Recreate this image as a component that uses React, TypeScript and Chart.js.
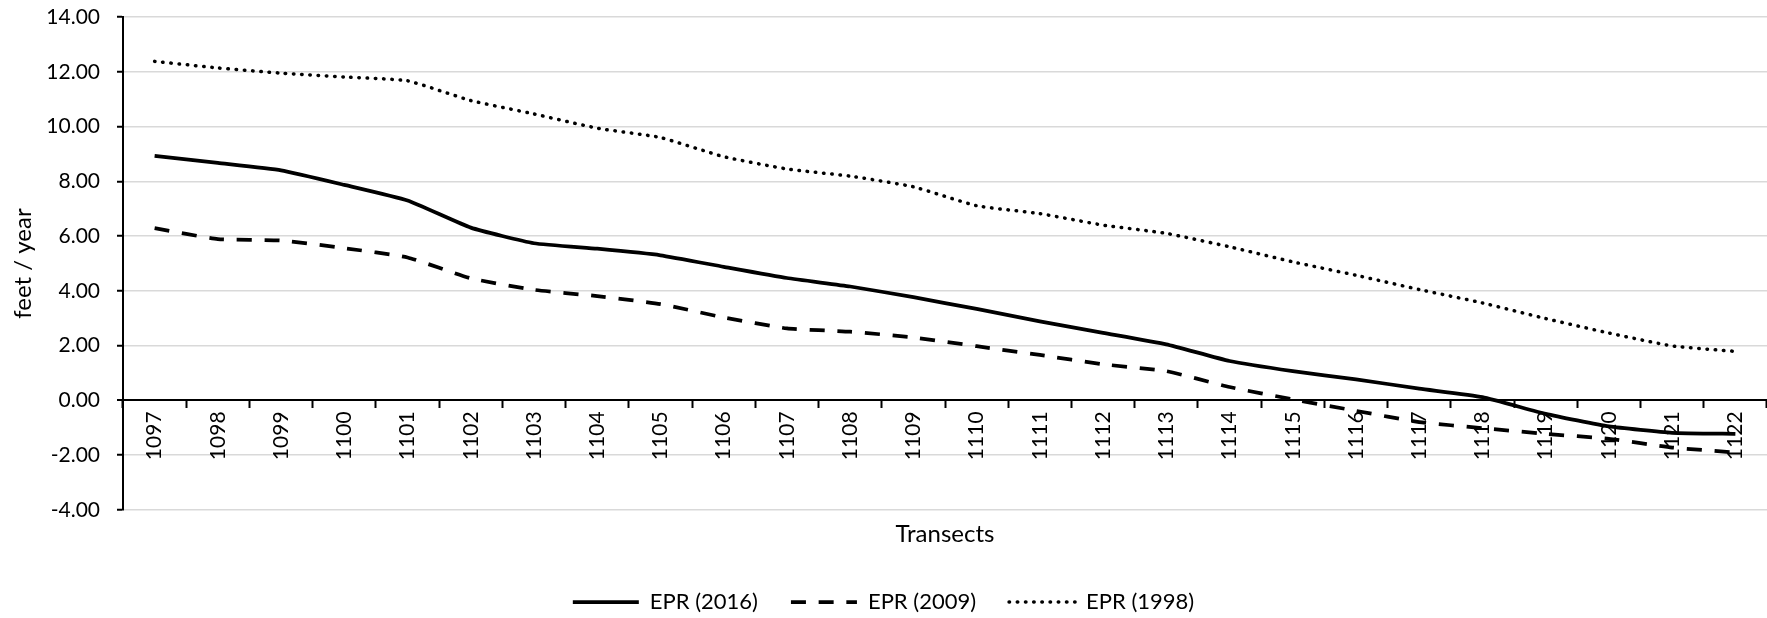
import React, { useEffect, useRef } from 'react';
import { Chart, registerables } from 'chart.js';

Chart.register(...registerables);

const categories = [
  '1097', '1098', '1099', '1100', '1101', '1102', '1103', '1104', '1105', '1106',
  '1107', '1108', '1109', '1110', '1111', '1112', '1113', '1114', '1115', '1116',
  '1117', '1118', '1119', '1120', '1121', '1122',
];

const epr2016 = [
  8.93, 8.67, 8.40, 7.87, 7.30, 6.31, 5.74, 5.54, 5.30, 4.88,
  4.47, 4.16, 3.77, 3.34, 2.89, 2.47, 2.05, 1.44, 1.07, 0.77,
  0.43, 0.12, -0.49, -0.95, -1.18, -1.22,
];

const epr2009 = [
  6.29, 5.89, 5.84, 5.56, 5.22, 4.46, 4.04, 3.81, 3.52, 3.03,
  2.63, 2.51, 2.30, 1.98, 1.66, 1.32, 1.07, 0.49, 0.04, -0.38,
  -0.79, -1.01, -1.22, -1.40, -1.72, -1.90,
];

const epr1998 = [
  12.38, 12.14, 11.95, 11.81, 11.67, 10.95, 10.46, 9.94, 9.60, 8.90,
  8.45, 8.19, 7.80, 7.11, 6.82, 6.40, 6.10, 5.61, 5.06, 4.57,
  4.05, 3.56, 2.99, 2.46, 1.99, 1.79,
];

const seriesNames = ['EPR (2016)', 'EPR (2009)', 'EPR (1998)'];
const yMin = -4;
const yMax = 14;
const yStep = 2;
const xTitle = 'Transects';
const yTitle = 'feet / year';

const FAMILY = 'Lato, "Open Sans", "Noto Sans", sans-serif';
const titleFont = { family: FAMILY, size: 24, weight: 'normal' as const };
const legendFont = { family: FAMILY, size: 22, weight: 'normal' as const };
const tickFont = { family: FAMILY, size: 21, weight: 'normal' as const };

export default function App() {
  const ref = useRef<HTMLCanvasElement>(null);

  useEffect(() => {
    document.body.style.margin = '0';
    const canvas = ref.current;
    if (!canvas) return;
    const chart = new Chart(canvas, {
      type: 'line',
      data: {
        labels: categories,
        datasets: [
          {
            label: seriesNames[0],
            data: epr2016,
            borderColor: '#000',
            backgroundColor: '#000',
            borderWidth: 3.75,
            pointRadius: 0,
            tension: 0.15,
            borderJoinStyle: 'round',
          },
          {
            label: seriesNames[1],
            data: epr2009,
            borderColor: '#000',
            backgroundColor: '#000',
            borderWidth: 3.75,
            borderDash: [15, 12.7],
            pointRadius: 0,
            tension: 0.15,
          },
          {
            label: seriesNames[2],
            data: epr1998,
            borderColor: '#000',
            backgroundColor: '#000',
            borderWidth: 3.5,
            borderDash: [0.5, 7.7],
            borderCapStyle: 'round',
            pointRadius: 0,
            tension: 0.15,
          },
        ],
      },
      options: {
        animation: false,
        responsive: false,
        devicePixelRatio: 1,
        layout: { padding: { top: 17, left: 0, right: 0, bottom: -5 } },
        plugins: {
          tooltip: { enabled: false },
          title: {
            display: true,
            text: xTitle,
            position: 'bottom',
            fullSize: false,
            weight: 500,
            color: '#000',
            font: titleFont,
            padding: { top: 9.6, bottom: 9.6 },
          },
          legend: {
            display: true,
            position: 'bottom',
            labels: {
              usePointStyle: true,
              pointStyle: 'line',
              pointStyleWidth: 66,
              boxWidth: 66,
              padding: 33,
              color: '#000',
              font: legendFont,
              generateLabels: (ch: any) => {
                const items = Chart.defaults.plugins.legend.labels.generateLabels(ch);
                return items.map((it: any) => {
                  const ds: any = ch.data.datasets[it.datasetIndex];
                  return {
                    ...it,
                    lineDash: ds.borderDash || [],
                    lineCap: ds.borderCapStyle || 'butt',
                    lineWidth: ds.borderWidth,
                    strokeStyle: '#000',
                    fillStyle: '#000',
                  };
                });
              },
            },
          },
        },
        scales: {
          x: {
            type: 'category',
            position: { y: 0 },
            offset: true,
            grid: {
              display: true,
              drawOnChartArea: false,
              drawTicks: true,
              tickLength: 7,
              tickColor: '#000',
              tickWidth: 2,
              offset: true,
            },
            border: { display: true, color: '#000', width: 2 },
            ticks: {
              autoSkip: false,
              minRotation: 90,
              maxRotation: 90,
              padding: 4,
              color: '#000',
              font: tickFont,
            },
          },
          y: {
            min: yMin,
            max: yMax,
            ticks: {
              stepSize: yStep,
              padding: 17,
              color: '#000',
              font: tickFont,
              callback: (v: any) => Number(v).toFixed(2),
            },
            grid: {
              color: (c: any) => (c.tick && c.tick.value === 0 ? '#000' : '#d9d9d9'),
              lineWidth: (c: any) => (c.tick && c.tick.value === 0 ? 2 : 1.5),
              tickColor: '#000',
              tickLength: 6,
              tickWidth: 2,
            },
            border: { display: true, color: '#000', width: 2 },
            title: {
              display: true,
              text: yTitle,
              color: '#000',
              font: titleFont,
              padding: { top: 8.6, bottom: 0 },
            },
            afterFit: (s: any) => {
              s.width = 123;
              s.paddingTop = 0;
              s.paddingBottom = 0;
            },
          },
        },
      },
    } as any);
    return () => chart.destroy();
  }, []);

  return (
    <div style={{ width: 1767, height: 618 }}>
      <canvas ref={ref} width={1767} height={618} style={{ display: 'block' }} />
    </div>
  );
}
